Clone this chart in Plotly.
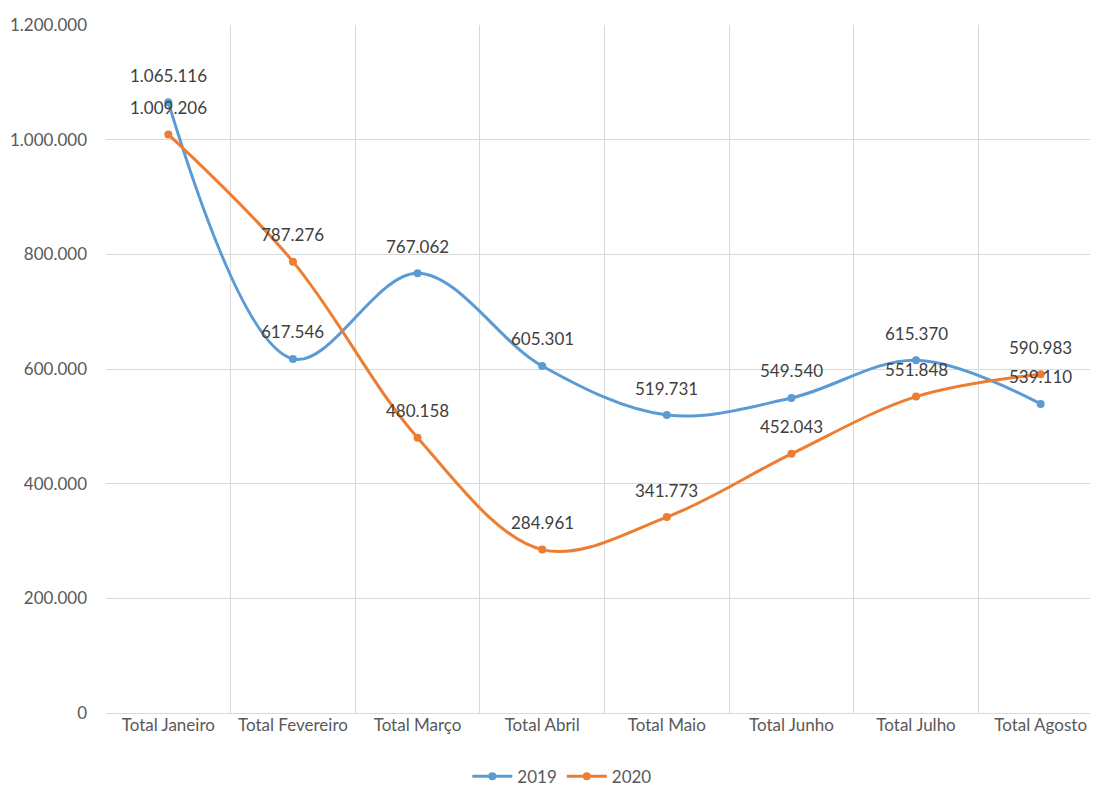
import plotly.graph_objects as go

categories = ["Total Janeiro", "Total Fevereiro", "Total Março", "Total Abril",
              "Total Maio", "Total Junho", "Total Julho", "Total Agosto"]
values_2019 = [1065116, 617546, 767062, 605301, 519731, 549540, 615370, 539110]
values_2020 = [1009206, 787276, 480158, 284961, 341773, 452043, 551848, 590983]

BLUE = "#5B9BD5"
ORANGE = "#ED7D31"
FONT = "Lato"

def fmt(v):
    return f"{v:,}".replace(",", ".")

fig = go.Figure()
for name, vals, col in [("2019", values_2019, BLUE), ("2020", values_2020, ORANGE)]:
    fig.add_trace(go.Scatter(
        x=categories, y=vals, name=name, mode="lines+markers",
        line=dict(color=col, width=3, shape="spline", smoothing=1),
        marker=dict(color=col, size=8, symbol="circle"),
        hoverinfo="skip",
    ))
    for c, v in zip(categories, vals):
        fig.add_annotation(x=c, y=v, text=fmt(v), showarrow=False, yshift=27,
                           font=dict(family=FONT, size=17, color="#404040"))

# page body has an 8px margin: figure is sized/offset to compensate
fig.update_layout(
    width=1090, height=782,
    margin=dict(l=98, r=0, t=17, b=77, autoexpand=False),
    paper_bgcolor="white", plot_bgcolor="white",
    separators=",.",
    font=dict(family=FONT, size=17, color="#595959"),
    showlegend=True,
    legend=dict(orientation="h", x=0.46, xanchor="center",
                yref="container", y=0.017, yanchor="middle",
                font=dict(family=FONT, size=17, color="#595959"),
                itemwidth=40),
)
fig.update_xaxes(
    type="category", range=[-0.5, 7.46], tickson="boundaries",
    showgrid=True, gridcolor="#D9D9D9", gridwidth=1,
    showline=False, zeroline=False, ticks="", ticklen=0,
    automargin=False,
    tickfont=dict(family=FONT, size=17, color="#595959"),
)
fig.update_yaxes(
    range=[0, 1200000], dtick=200000, tickformat=",d",
    showgrid=True, gridcolor="#D9D9D9", gridwidth=1,
    showline=False, zeroline=True, zerolinecolor="#D9D9D9", zerolinewidth=1,
    ticks="", ticklabelstandoff=18, automargin=False,
    tickfont=dict(family=FONT, size=17, color="#595959"),
)

fig.write_html("out.html")
